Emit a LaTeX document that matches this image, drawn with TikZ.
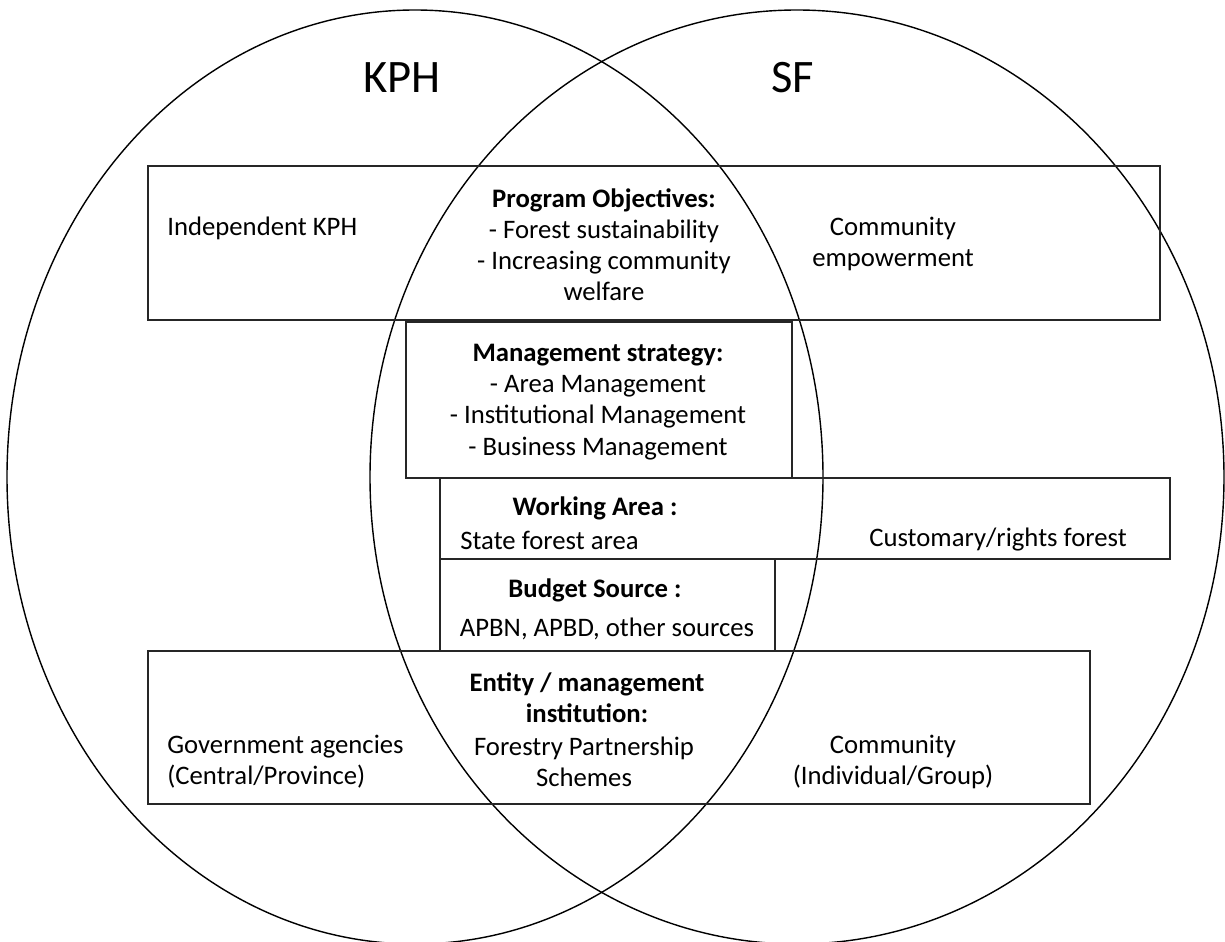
\documentclass[tikz,border=0pt]{standalone}
\usepackage{fontspec}
\setmainfont{Carlito}
\tikzset{
  txt/.style={font=\fontsize{15.2}{17.7}\selectfont, inner sep=0pt, align=center},
  ttl/.style={font=\fontsize{26.5}{30}\selectfont, inner sep=0pt},
  boxline/.style={line width=1pt, draw=black!85},
  venn/.style={line width=0.8pt}
}
\begin{document}
\begin{tikzpicture}[x=0.02cm,y=-0.02cm]
  \useasboundingbox (0,0) rectangle (1225,942);
  % the two sets
  \draw[venn] (415,477) ellipse [x radius=408, y radius=467];
  \draw[venn] (797,477) ellipse [x radius=427, y radius=467];
  \node[ttl] (kph) at (402,78) {KPH};
  \node[ttl] (sf) at (793,78) {SF};
  % program objectives
  \draw[boxline] (148,166) rectangle (1160,320);
  \node[txt, anchor=west] (indep) at (167,228) {Independent KPH};
  \node[txt] (objectives) at (604,245) {\textbf{Program Objectives:}\\- Forest sustainability\\- Increasing community\\welfare};
  \node[txt] (empower) at (893,244) {Community\\empowerment};
  % management strategy
  \draw[boxline] (406,322) rectangle (792,478);
  \node[txt] (strategy) at (598,402) {\textbf{Management strategy:}\\- Area Management\\- Institutional Management\\- Business Management};
  % working area
  \draw[boxline] (440,478) rectangle (1170,559);
  \node[txt] (area) at (595,508) {\textbf{Working Area :}};
  \node[txt, anchor=west] (state) at (460,540) {State forest area};
  \node[txt] (custom) at (998,540) {Customary/rights forest};
  % budget source
  \draw[boxline] (440,559) rectangle (775,651);
  \node[txt] (budget) at (595,590) {\textbf{Budget Source :}};
  \node[txt] (sources) at (607,629) {APBN, APBD, other sources};
  % entity / institution
  \draw[boxline] (148,651) rectangle (1090,804);
  \node[txt] (entity) at (587,698) {\textbf{Entity / management}\\\textbf{institution:}};
  \node[txt, anchor=west, align=left] (gov) at (167,762) {Government agencies\\(Central/Province)};
  \node[txt] (partner) at (584,762) {Forestry Partnership\\Schemes};
  \node[txt] (comm) at (893,762) {Community\\(Individual/Group)};
\end{tikzpicture}
\end{document}
